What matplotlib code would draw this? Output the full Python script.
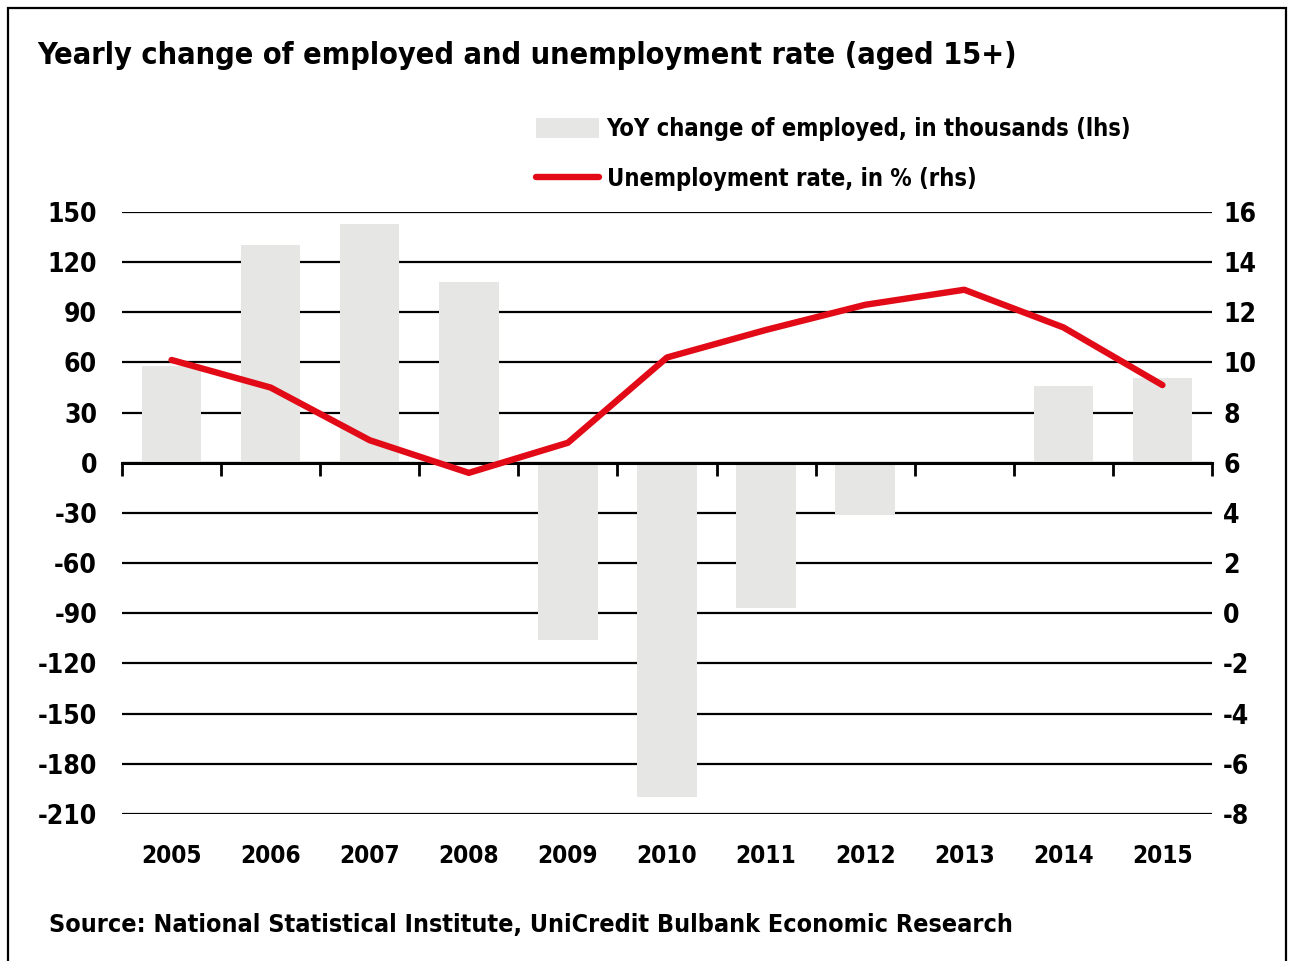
import matplotlib
matplotlib.use('Agg')
import matplotlib.pyplot as plt
from matplotlib.patches import Rectangle

years = ['2005', '2006', '2007', '2008', '2009', '2010',
         '2011', '2012', '2013', '2014', '2015']
employed_chg = [58, 130, 143, 108, -106, -200, -87, -31, 0, 46, 51]  # thousands, lhs
unemp_rate = [10.1, 9.0, 6.9, 5.6, 6.8, 10.2, 11.3, 12.3, 12.9, 11.4, 9.1]  # %, rhs
lhs_ticks = list(range(-210, 151, 30))
rhs_ticks = list(range(-8, 17, 2))

BAR_C = '#e6e6e4'
RED = '#e20a16'
plt.rcParams['font.family'] = ['DejaVu Sans']
plt.rcParams['font.stretch'] = 'condensed'
plt.rcParams['font.weight'] = 'bold'
plt.rcParams['axes.unicode_minus'] = False

fig = plt.figure(figsize=(12.94, 9.61), dpi=100)
ax = fig.add_axes([0.0943, 0.153, 0.8423, 0.6264])
ax2 = ax.twinx()

x = list(range(len(years)))
ax.bar(x, employed_chg, width=0.6, color=BAR_C, zorder=2,
       label='YoY change of employed, in thousands (lhs)')
ax2.plot(x, unemp_rate, color=RED, lw=4.6, solid_capstyle='round',
         label='Unemployment rate, in % (rhs)')

ax.set_xlim(-0.5, len(years) - 0.5)
ax.set_ylim(-210, 150)
ax2.set_ylim(-8, 16)
ax.set_yticks(lhs_ticks)
ax2.set_yticks(rhs_ticks)
ax.yaxis.grid(True, color='black', lw=1.6)
ax.set_axisbelow(True)
ax.tick_params(axis='y', length=0, pad=18, labelsize=19)
ax2.tick_params(axis='y', length=0, pad=8, labelsize=19)
for a in (ax, ax2):
  for s in ('left', 'right', 'top'):
    a.spines[s].set_visible(False)
ax2.spines['bottom'].set_visible(False)

# zero line with category-boundary ticks hanging below it
ax.spines['bottom'].set_position(('data', 0))
ax.spines['bottom'].set_linewidth(2.2)
ax.spines['bottom'].set_zorder(3)
ax.set_xticks([i - 0.5 for i in range(len(years) + 1)])
ax.set_xticklabels([])
ax.tick_params(axis='x', length=9, width=2, direction='out')
for i, yr in enumerate(years):
  ax.text(i, -0.07, yr, transform=ax.get_xaxis_transform(),
          ha='center', va='center', fontsize=17.5)

fig.text(0.029, 0.942, 'Yearly change of employed and unemployment rate (aged 15+)',
         fontsize=22, va='center', ha='left')
fig.text(0.038, 0.037, 'Source: National Statistical Institute, UniCredit Bulbank Economic Research',
         fontsize=18, va='center', ha='left')

h1, l1 = ax.get_legend_handles_labels()
h2, l2 = ax2.get_legend_handles_labels()
fig.legend(h1 + h2, l1 + l2, loc='upper left', bbox_to_anchor=(0.414, 0.878),
           frameon=False, fontsize=17, handlelength=2.7, handleheight=0.9,
           handletextpad=0.3, labelspacing=1.1, borderaxespad=0, borderpad=0)

fig.patches.append(Rectangle((0.006, -0.05), 0.988, 1.042, transform=fig.transFigure,
                             fill=False, edgecolor='black', lw=1.6))

fig.savefig('out.png', dpi=100)
